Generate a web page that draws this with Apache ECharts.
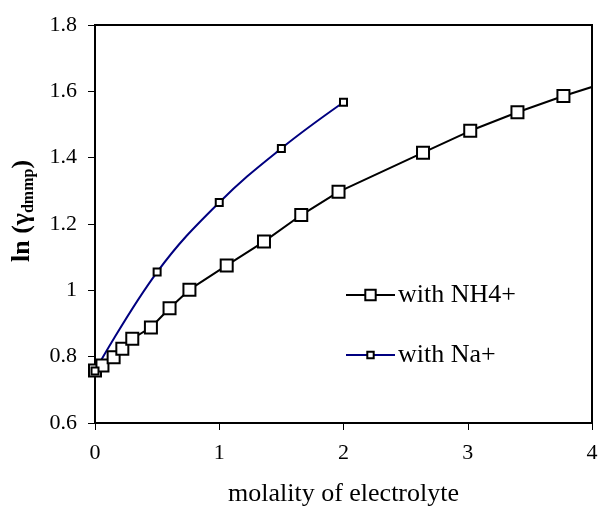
<!DOCTYPE html>
<html>
<head>
<meta charset="utf-8">
<script src="https://cdn.jsdelivr.net/npm/echarts@6/dist/echarts.min.js"></script>
<style>html,body{margin:0;padding:0;background:#fff}#c{width:598px;height:506px}</style>
</head>
<body>
<div id="c"></div>
<script>
var nh4X = [0, 0.06, 0.15, 0.22, 0.30, 0.45, 0.60, 0.76, 1.06, 1.36, 1.66, 1.96, 2.64, 3.02, 3.40, 3.77, 4.15];
var nh4Y = [0.758, 0.773, 0.798, 0.824, 0.854, 0.888, 0.946, 1.002, 1.075, 1.147, 1.227, 1.297, 1.415, 1.481, 1.537, 1.586, 1.631];
var naX = [0, 0.5, 1.0, 1.5, 2.0];
var naY = [0.757, 1.055, 1.265, 1.428, 1.567];
var xTicks = [0, 1, 2, 3, 4];
var yTicks = [0.6, 0.8, 1, 1.2, 1.4, 1.6, 1.8];
var seriesNames = ['with NH4+', 'with Na+'];
var xTitle = 'molality of electrolyte';

function pairs(xs, ys) { return xs.map(function (x, i) { return [x, ys[i]]; }); }

var FONT = 'Liberation Serif';
var legendText = { fontFamily: FONT, fontSize: 26, color: '#000', lineHeight: 30, padding: [0, 0, 0, -2] };
var chart = echarts.init(document.getElementById('c'));
chart.setOption({
  animation: false,
  backgroundColor: '#fff',
  grid: { left: 95, right: 6, top: 25, bottom: 83, show: true, borderColor: '#000', borderWidth: 2, containLabel: false, outerBoundsMode: 'none' },
  xAxis: {
    type: 'value', min: xTicks[0], max: xTicks[xTicks.length - 1], interval: 1,
    name: xTitle, nameLocation: 'middle', nameGap: 58,
    nameTextStyle: { fontFamily: FONT, fontSize: 26, color: '#000' },
    axisLine: { show: true, onZero: false, lineStyle: { color: '#000', width: 2 } },
    axisTick: { show: true, inside: false, length: 7, lineStyle: { color: '#000', width: 1 } },
    axisLabel: { fontFamily: FONT, fontSize: 22, color: '#000', margin: 19 },
    splitLine: { show: false }
  },
  yAxis: {
    type: 'value', min: yTicks[0], max: yTicks[yTicks.length - 1], interval: 0.2,
    name: '{b|ln (γ}{s|dmmp}{b|)}', nameLocation: 'middle', nameGap: 58,
    nameTextStyle: {
      fontFamily: FONT, color: '#000', padding: [0, 0, 0, 26],
      rich: {
        b: { fontFamily: FONT, fontSize: 26, fontWeight: 'bold', color: '#000', lineHeight: 30, verticalAlign: 'middle' },
        s: { fontFamily: FONT, fontSize: 16, fontWeight: 'bold', color: '#000', lineHeight: 16, verticalAlign: 'bottom' }
      }
    },
    axisLine: { show: true, onZero: false, lineStyle: { color: '#000', width: 2 } },
    axisTick: { show: true, inside: false, length: 7, lineStyle: { color: '#000', width: 1 } },
    axisLabel: { fontFamily: FONT, fontSize: 22, color: '#000', margin: 18 },
    splitLine: { show: false }
  },
  legend: [
    { orient: 'vertical', left: 340, top: 275, itemWidth: 49, itemHeight: 13, textStyle: legendText, data: [seriesNames[0]] },
    { orient: 'vertical', left: 340, top: 335, itemWidth: 49, itemHeight: 8, textStyle: legendText, data: [seriesNames[1]] }
  ],
  series: [
    {
      name: seriesNames[0], type: 'line', data: pairs(nh4X, nh4Y), clip: true,
      symbol: 'rect', symbolSize: 12,
      lineStyle: { color: '#000', width: 2 },
      itemStyle: { color: '#fff', borderColor: '#000', borderWidth: 2 }
    },
    {
      name: seriesNames[1], type: 'line', data: pairs(naX, naY), clip: true, smooth: 0.4,
      symbol: 'rect', symbolSize: 7,
      lineStyle: { color: '#000080', width: 2 },
      itemStyle: { color: '#fff', borderColor: '#000', borderWidth: 2 }
    }
  ]
});
</script>
</body>
</html>
